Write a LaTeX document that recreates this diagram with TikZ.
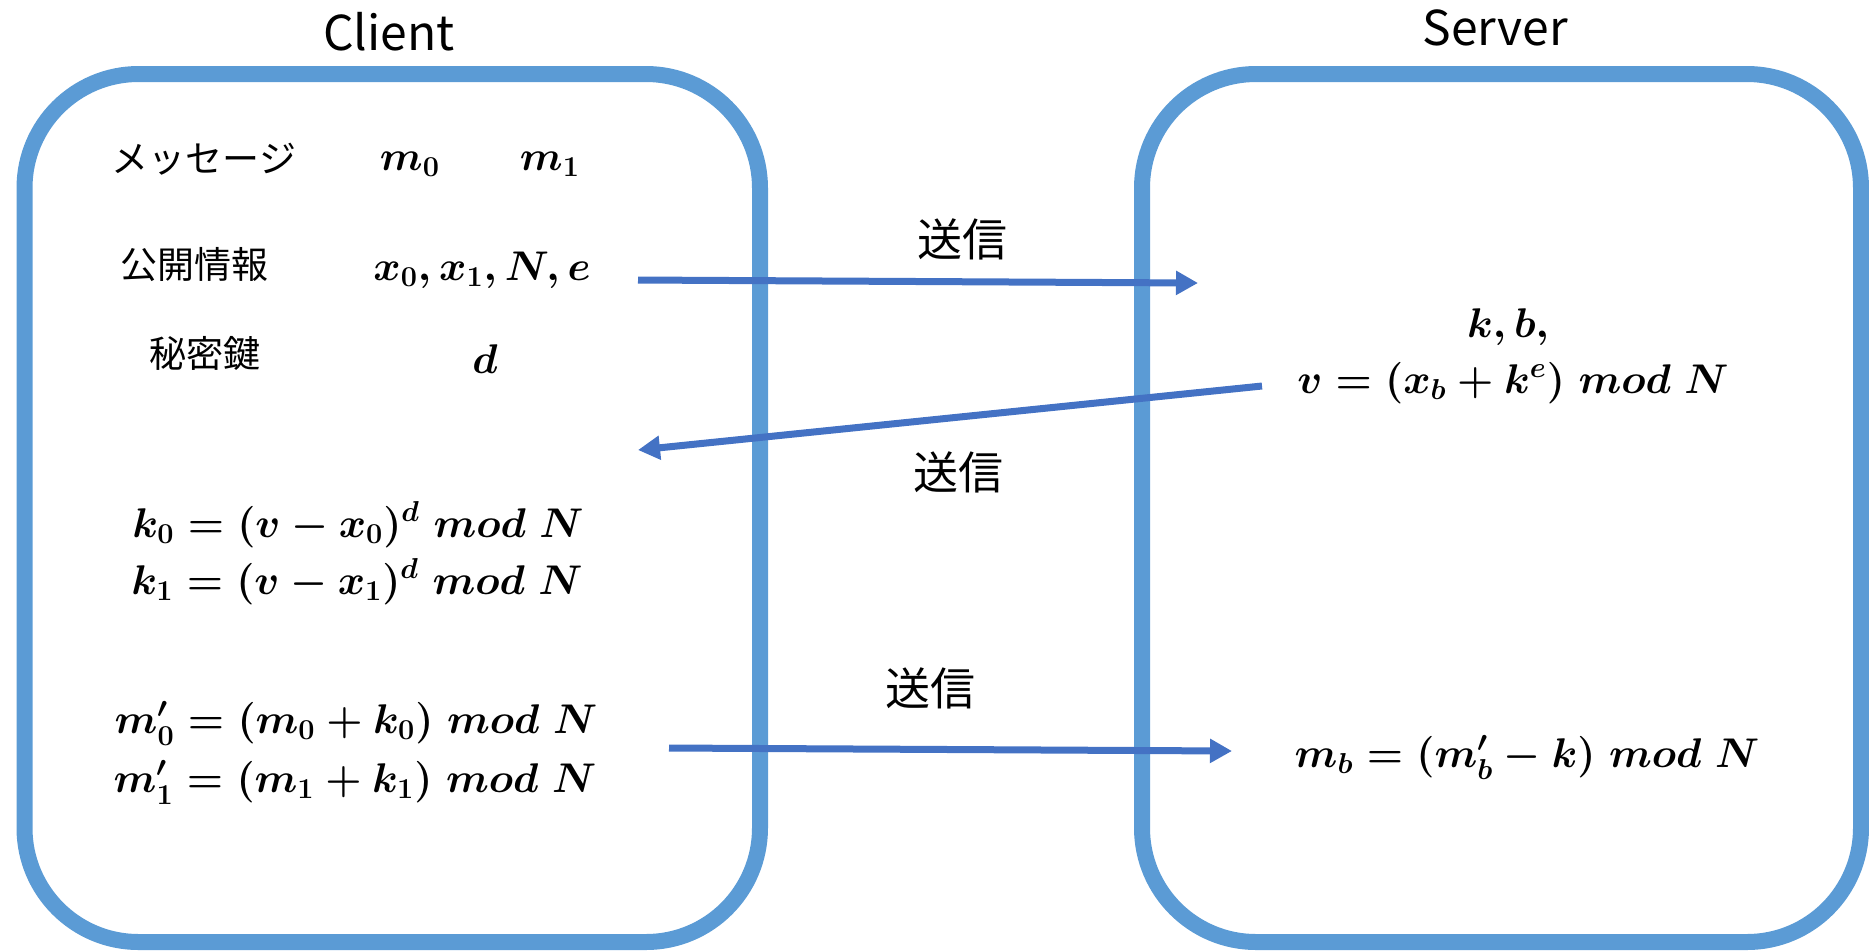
\documentclass[tikz,border=0pt]{standalone}
\usepackage{fontspec}
\newfontfamily\jp{Noto Sans CJK JP}
\usetikzlibrary{arrows.meta}
\definecolor{boxblue}{HTML}{5B9BD5}
\definecolor{arrblue}{HTML}{4472C4}
\begin{document}
\begin{tikzpicture}[x=0.5pt,y=-0.5pt,
  party/.style={draw=boxblue,line width=8pt,rounded corners=57pt,inner sep=0pt},
  title/.style={font=\jp\fontsize{24pt}{28pt}\selectfont,inner sep=0pt,anchor=base},
  jlabel/.style={font=\jp\fontsize{18.5pt}{22pt}\selectfont,inner sep=0pt},
  send/.style={font=\jp\fontsize{22.5pt}{26pt}\selectfont,inner sep=0pt},
  eq/.style={font=\fontsize{22.5pt}{26pt}\selectfont\boldmath,inner sep=0pt,anchor=base},
  msg/.style={draw=arrblue,line width=3.5pt,-{Triangle[length=11pt,width=11.5pt]}}]
\useasboundingbox (0,0) rectangle (1869,950);
% boxes
\node[party,minimum width=367.75pt,minimum height=434pt] (client) at (392.25,508) {};
\node[party,minimum width=359.5pt,minimum height=434pt] (server) at (1501.5,508) {};
% titles
\node[title] (tclient) at (389,50) {Client};
\node[title] (tserver) at (1495,45) {Server};
% client contents
\node[jlabel] (lmsg) at (204,159) {メッセージ};
\node[jlabel] (lpub) at (194,265) {公開情報};
\node[jlabel] (lsec) at (205,353) {秘密鍵};
\node[eq] (m0) at (410,170) {$m_0$};
\node[eq] (m1) at (550,170) {$m_1$};
\node[eq] (pub) at (482,280) {$x_0, x_1, N, e$};
\node[eq] (sec) at (485,373) {$d$};
\node[eq] (k0) at (358,537) {$k_0 = (v - x_0)^d\ mod\ N$};
\node[eq] (k1) at (357,594) {$k_1 = (v - x_1)^d\ mod\ N$};
\node[eq] (mp0) at (356,733) {$m'_0 = (m_0 + k_0)\ mod\ N$};
\node[eq] (mp1) at (355,792) {$m'_1 = (m_1 + k_1)\ mod\ N$};
% server contents
\node[eq] (kb) at (1508,337) {$k, b,$};
\node[eq] (vv) at (1513,393) {$v = (x_b + k^e)\ mod\ N$};
\node[eq] (mb) at (1527,767) {$m_b = (m'_b - k)\ mod\ N$};
% arrows
\coordinate (a1s) at (638,280);
\coordinate (a1e) at (1198,283);
\coordinate (a2s) at (1262,386);
\coordinate (a2e) at (638,450);
\coordinate (a3s) at (669,748);
\coordinate (a3e) at (1232,751);
\draw[msg] (a1s) -- (a1e);
\draw[msg] (a2s) -- (a2e);
\draw[msg] (a3s) -- (a3e);
\node[send] (s1) at (962,239) {送信};
\node[send] (s2) at (958,472) {送信};
\node[send] (s3) at (930,688) {送信};
\end{tikzpicture}
\end{document}
